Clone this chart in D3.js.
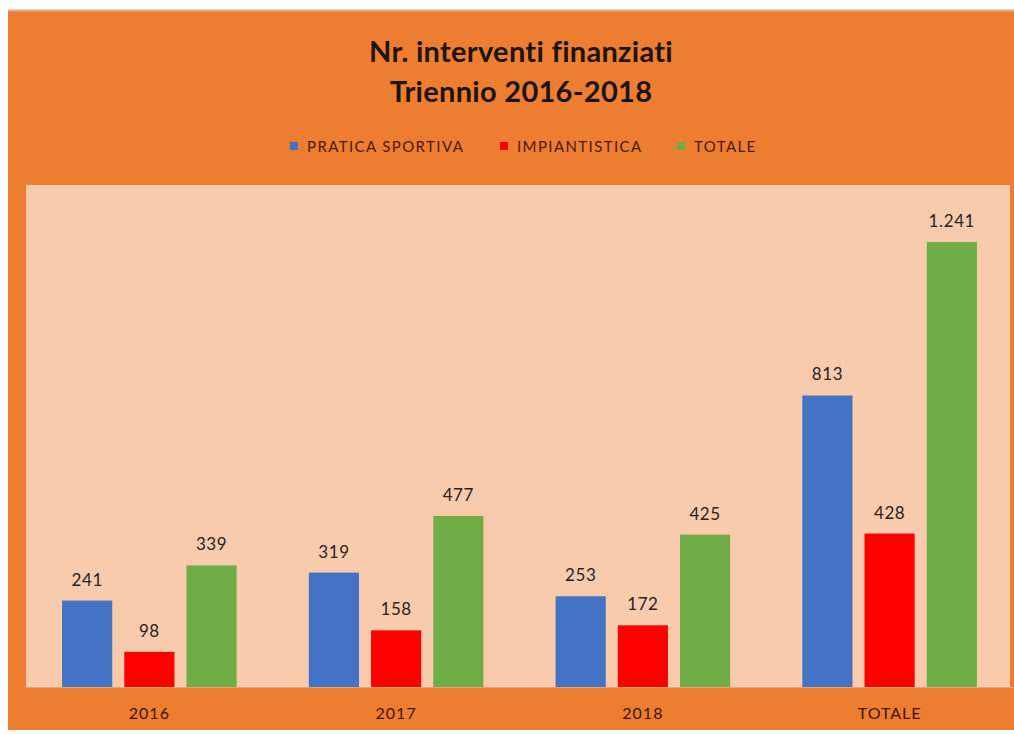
<!DOCTYPE html>
<html lang="it">
  <head>
    <meta charset="utf-8" />
    <title>Nr. interventi finanziati</title>
    <script src="https://d3js.org/d3.v7.min.js"></script>
    <style>
      body { margin: 0; background: #fff; }
      svg { display: block; font-family: Lato, "Open Sans", sans-serif; }
    </style>
  </head>
  <body>
    <div id="chart"></div>
    <script>
      const categories = ["2016", "2017", "2018", "TOTALE"];
      const seriesNames = ["PRATICA SPORTIVA", "IMPIANTISTICA", "TOTALE"];
      const praticaSportiva = [241, 319, 253, 813];
      const impiantistica = [98, 158, 172, 428];
      const totale = [339, 477, 425, 1241];
      const seriesColors = ["#4472C4", "#FF0000", "#70AD47"];

      const width = 1014;
      const height = 734;
      const plot = { left: 26, right: 1010, top: 185, bottom: 687 };

      const svg = d3
        .select("#chart")
        .append("svg")
        .attr("width", width)
        .attr("height", height);

      // orange frame + plot background
      svg.append("rect")
        .attr("x", 8).attr("y", 10)
        .attr("width", width - 8).attr("height", 720)
        .attr("fill", "#ED7D31");
      svg.append("line")
        .attr("x1", 8).attr("x2", width).attr("y1", 10.5).attr("y2", 10.5)
        .attr("stroke", "#E0B07A").attr("stroke-width", 2);
      svg.append("rect")
        .attr("x", plot.left).attr("y", plot.top)
        .attr("width", plot.right - plot.left)
        .attr("height", plot.bottom - plot.top)
        .attr("fill", "#F8CBAD");

      // title
      const title = svg.append("text")
        .attr("text-anchor", "middle")
        .attr("fill", "#1c1410")
        .style("font-size", "29px")
        .style("letter-spacing", "0.3px")
        .style("font-weight", "bold");
      title.append("tspan").attr("x", 521).attr("y", 62).text("Nr. interventi finanziati");
      title.append("tspan").attr("x", 521).attr("y", 102).text("Triennio 2016-2018");

      const data = categories.map((c, i) => ({
        cat: c,
        values: [praticaSportiva[i], impiantistica[i], totale[i]],
      }));

      // categories spread a touch wider than the peach box, as in the original
      const x0 = d3.scaleBand()
        .domain(categories)
        .range([plot.left, plot.right + 3])
        .paddingInner(0)
        .paddingOuter(0);

      const x1 = d3.scaleBand()
        .domain(d3.range(seriesNames.length))
        .range([0, x0.bandwidth()])
        .paddingInner(0.1935)
        .paddingOuter(0.58);

      const y = d3.scaleLinear().domain([0, 1400]).range([plot.bottom, plot.top]);

      const groups = svg.selectAll(".group")
        .data(data)
        .enter()
        .append("g")
        .attr("class", "group")
        .attr("transform", (d) => `translate(${x0(d.cat)},0)`);

      const cells = groups.selectAll(".cell")
        .data((d) => d.values.map((v, i) => ({ v, i })))
        .enter();

      cells.append("rect")
        .attr("x", (d) => x1(d.i))
        .attr("y", (d) => y(d.v))
        .attr("width", x1.bandwidth())
        .attr("height", (d) => y(0) - y(d.v))
        .attr("fill", (d) => seriesColors[d.i]);

      const fmt = d3.formatLocale({ decimal: ",", thousands: ".", grouping: [3], currency: ["€", ""] }).format(",d");

      cells.append("text")
        .attr("x", (d) => x1(d.i) + x1.bandwidth() / 2)
        .attr("y", (d) => y(d.v) - 15)
        .attr("text-anchor", "middle")
        .attr("fill", "#2a2220")
        .style("font-size", "17px")
        .style("letter-spacing", "0.6px")
        .text((d) => fmt(d.v));

      // x axis
      const xAxis = svg.append("g")
        .attr("transform", `translate(0,${plot.bottom})`)
        .call(d3.axisBottom(x0).tickSize(0).tickPadding(21));
      xAxis.select(".domain").attr("stroke", "#D9A67E").attr("stroke-width", 1);
      xAxis.selectAll("text")
        .attr("fill", "#3d1608")
        .style("font-size", "16px")
        .style("letter-spacing", "1px")
        .style("font-family", "Lato, sans-serif");

      // legend
      const legendX = [290, 500, 677];
      const legend = svg.selectAll(".legend")
        .data(seriesNames)
        .enter()
        .append("g")
        .attr("class", "legend")
        .attr("transform", (d, i) => `translate(${legendX[i]},146)`);
      legend.append("rect")
        .attr("x", 0).attr("y", -4)
        .attr("width", 8).attr("height", 8)
        .attr("fill", (d, i) => seriesColors[i]);
      legend.append("text")
        .attr("x", 17).attr("y", 6)
        .attr("fill", "#4a1a0c")
        .style("font-size", "15px")
        .style("letter-spacing", "1.4px")
        .text((d) => d);
    </script>
  </body>
</html>
